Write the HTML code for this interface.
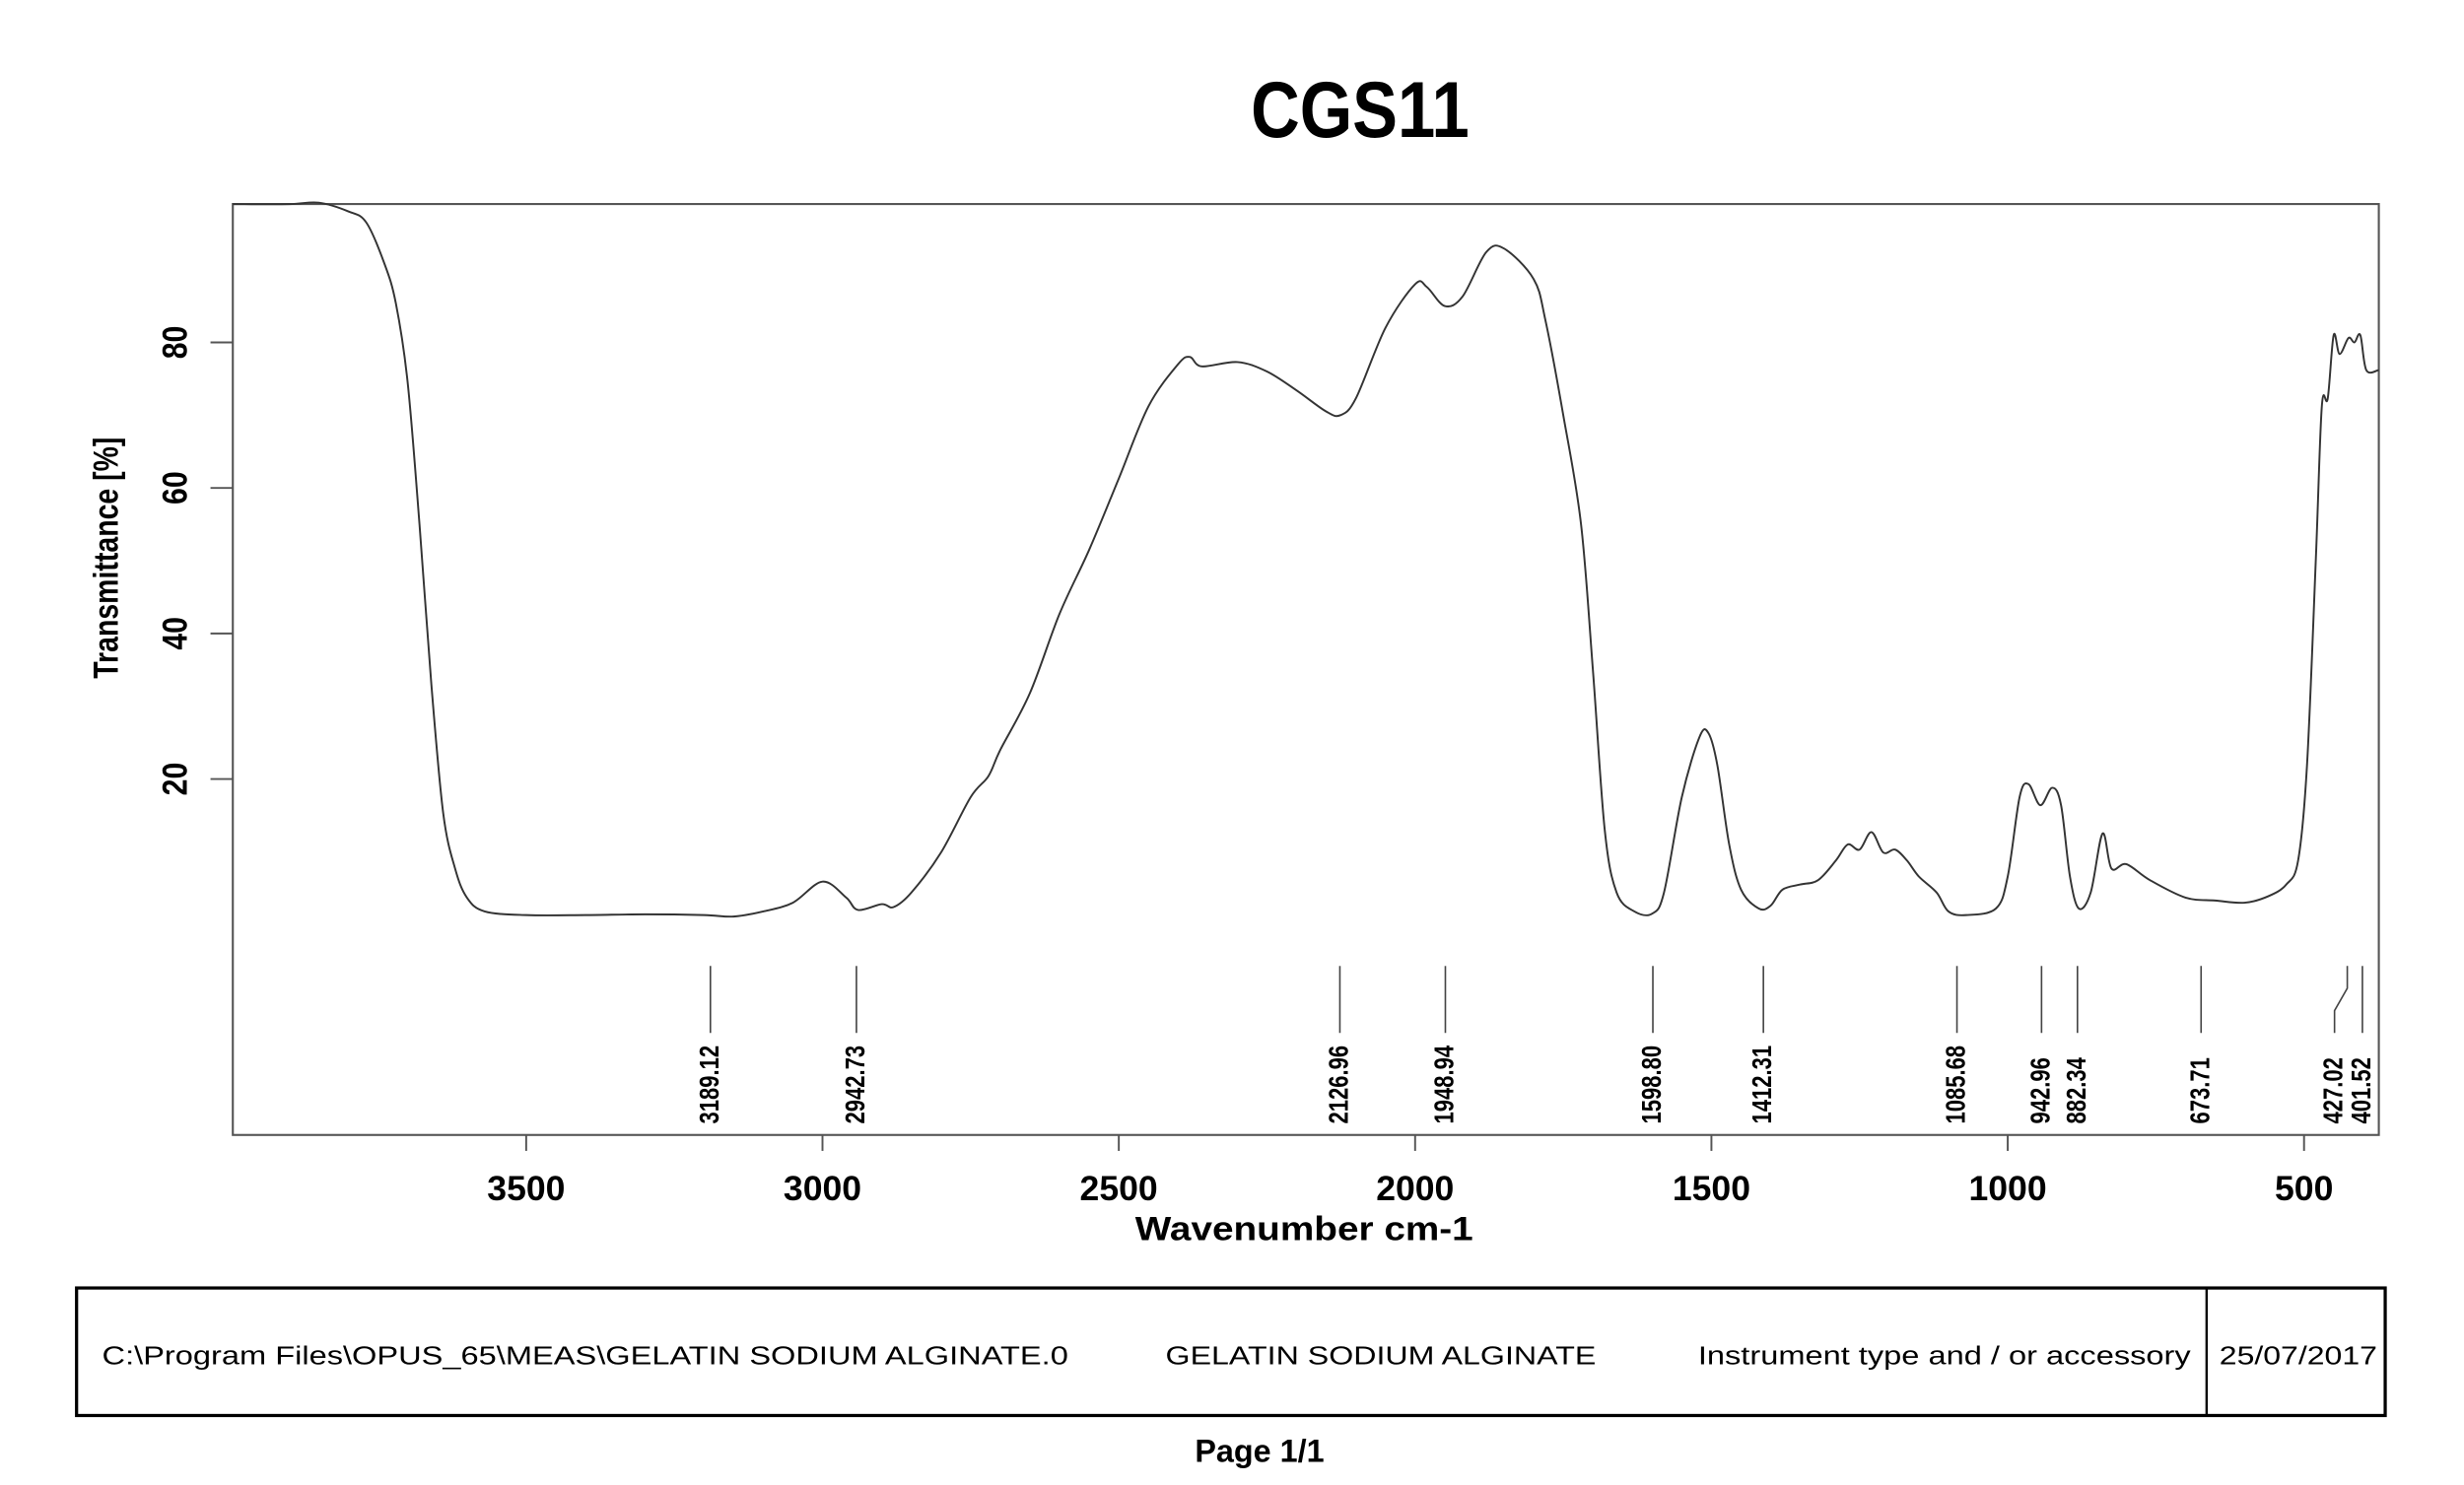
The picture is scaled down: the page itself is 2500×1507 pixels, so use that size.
<!DOCTYPE html>
<html><head><meta charset="utf-8"><style>
html,body{margin:0;padding:0;background:#fff;}
svg{display:block;}
text{font-family:"Liberation Sans",Arial,sans-serif;fill:#000;}
</style></head><body>
<svg id="chart" width="2500" height="1507" viewBox="0 0 1545.4 931.6" xmlns="http://www.w3.org/2000/svg">
<text x="853" y="86" text-anchor="middle" font-size="50" font-weight="bold" transform="translate(853 0) scale(0.85 1) translate(-853 0)">CGS11</text>
<rect x="146" y="128" width="1346" height="584" fill="none" stroke="#555" stroke-width="1.3"/>
<g id="yaxis"></g>
<g id="xaxis"></g>
<text transform="translate(74 350) rotate(-90) scale(0.8 1)" text-anchor="middle" font-size="22" font-weight="bold">Transmittance [%]</text>
<text x="818" y="778" text-anchor="middle" font-size="21" font-weight="bold" textLength="212" lengthAdjust="spacingAndGlyphs">Wavenumber cm-1</text>
<path id="spectrum" fill="none" stroke="#333" stroke-width="1.2" stroke-linejoin="round"/>
<g id="peaks"></g>
<g>
<rect x="48" y="808" width="1448" height="80" fill="none" stroke="#000" stroke-width="2"/>
<line x1="1384" y1="808" x2="1384" y2="888" stroke="#000" stroke-width="1.5"/>
<text x="64" y="856" font-size="16" textLength="606" lengthAdjust="spacingAndGlyphs">C:\Program Files\OPUS_65\MEAS\GELATIN SODIUM ALGINATE.0</text>
<text x="731" y="856" font-size="16" textLength="270" lengthAdjust="spacingAndGlyphs">GELATIN SODIUM ALGINATE</text>
<text x="1065" y="856" font-size="16" textLength="309" lengthAdjust="spacingAndGlyphs">Instrument type and / or accessory</text>
<text x="1392" y="856" font-size="16" textLength="99" lengthAdjust="spacingAndGlyphs">25/07/2017</text>
</g>
<text x="790" y="917" text-anchor="middle" font-size="20" font-weight="bold">Page 1/1</text>
</svg>
<script>
const wavenumbers=[3995,3900,3850,3800,3770,3740,3720,3700,3680,3660,3640,3620,3600,3570,3500,3400,3300,3200,3150,3100,3050,3000,2960,2940,2900,2880,2850,2800,2750,2720,2700,2650,2600,2550,2500,2450,2400,2380,2360,2300,2250,2200,2150,2126,2100,2050,2000,1980,1950,1920,1880,1850,1800,1780,1750,1720,1700,1680,1660,1630,1600,1580,1550,1520,1505,1490,1470,1450,1420,1400,1380,1350,1320,1290,1270,1250,1230,1210,1190,1170,1150,1120,1100,1070,1020,1000,980,965,945,925,910,895,880,860,840,825,800,760,700,650,600,560,530,510,495,480,470,460,450,440,425,415,405,395,374];
const transmittance=[99,99,99.2,98,96.5,91,85.4,74.5,55,33,15.3,7.7,3.7,1.8,1.3,1.3,1.4,1.3,1.1,1.8,3,5.9,3.7,2,2.8,2.4,4.4,9.9,17.5,20.4,24,31.8,42.7,51.5,61.3,71.2,77,78,76.7,77.3,76,73.4,70.5,70,72.3,82,88,87.6,85,86.3,92.4,92.9,88.7,83,70,55,35,13,4.4,1.8,1.5,4.4,17.5,25.8,26.3,21.9,11,4.8,2.2,2.6,4.8,5.5,6.1,8.8,11,10.3,12.7,9.9,10.3,8.8,6.6,4.4,1.8,1.3,2.2,6.6,17.5,19.3,16.4,18.8,16.4,6.6,2.2,4.4,12.5,7.7,8.3,6.1,3.7,3.3,3,3.9,5.5,8.8,21.9,50.4,71.2,72.3,81,78.4,80.6,80,81,76.2,76.2];
const xTicks=[3500,3000,2500,2000,1500,1000,500];
const yTicks=[20,40,60,80];
const peakLabels=["3189.12","2942.73","2126.96","1948.94","1598.80","1412.31","1085.68","942.96","882.34","673.71","427.02","401.52"];
const peakValues=[3189.12,2942.73,2126.96,1948.94,1598.80,1412.31,1085.68,942.96,882.34,673.71,427.02,401.52];
const NS="http://www.w3.org/2000/svg";
function xs(w){return 330+(3500-w)*0.3717;}
function ys(v){return 580-v*4.565;}
function mk(tag,attrs,parent){const e=document.createElementNS(NS,tag);for(const k in attrs)e.setAttribute(k,attrs[k]);parent.appendChild(e);return e;}
// smooth path (Catmull-Rom)
const pts=wavenumbers.map((w,i)=>[xs(w),ys(transmittance[i])]);
let d="M"+pts[0][0].toFixed(2)+" "+pts[0][1].toFixed(2);
for(let i=0;i<pts.length-1;i++){
 const p0=pts[Math.max(0,i-1)],p1=pts[i],p2=pts[i+1],p3=pts[Math.min(pts.length-1,i+2)];
 const c1=[p1[0]+(p2[0]-p0[0])/6,p1[1]+(p2[1]-p0[1])/6];
 const c2=[p2[0]-(p3[0]-p1[0])/6,p2[1]-(p3[1]-p1[1])/6];
 d+=`C${c1[0].toFixed(2)} ${c1[1].toFixed(2)} ${c2[0].toFixed(2)} ${c2[1].toFixed(2)} ${p2[0].toFixed(2)} ${p2[1].toFixed(2)}`;
}
document.getElementById("spectrum").setAttribute("d",d);
const xa=document.getElementById("xaxis");
xTicks.forEach(t=>{
 const x=xs(t);
 const l=mk("line",{x1:x,y1:712,x2:x,y2:722,stroke:"#555","stroke-width":1.2},xa);
 
 
 const tx=mk("text",{x:x,y:753,"text-anchor":"middle","font-size":22,"font-weight":"bold"},xa);
 tx.textContent=t;
 
 
});
const ya=document.getElementById("yaxis");
yTicks.forEach(t=>{
 const y=ys(t);
 const l=mk("line",{x1:132,y1:y,x2:146,y2:y,stroke:"#555","stroke-width":1.2},ya);
 
 
 const tx=mk("text",{transform:`translate(117 ${y}) rotate(-90) scale(0.85 1)`,"text-anchor":"middle","font-size":22,"font-weight":"bold"},ya);
 tx.textContent=t;
 
 
});
const pg=document.getElementById("peaks");
peakValues.forEach((p,i)=>{
 let x=xs(p);
 let lx=x;
 if(i===peakValues.length-2){lx=x-8;}
 let pd=`M${x} 606L${x} 620L${lx} 634L${lx} 648`;
 const l=mk("path",{d:pd,fill:"none",stroke:"#444","stroke-width":1},pg);
 
 
 const tx=mk("text",{transform:`translate(${lx+5} 705) rotate(-90) scale(0.8 1)`,"text-anchor":"start","font-size":17,"font-weight":"bold"},pg);
 tx.textContent=peakLabels[i];
 
 
});
</script>
</body></html>
